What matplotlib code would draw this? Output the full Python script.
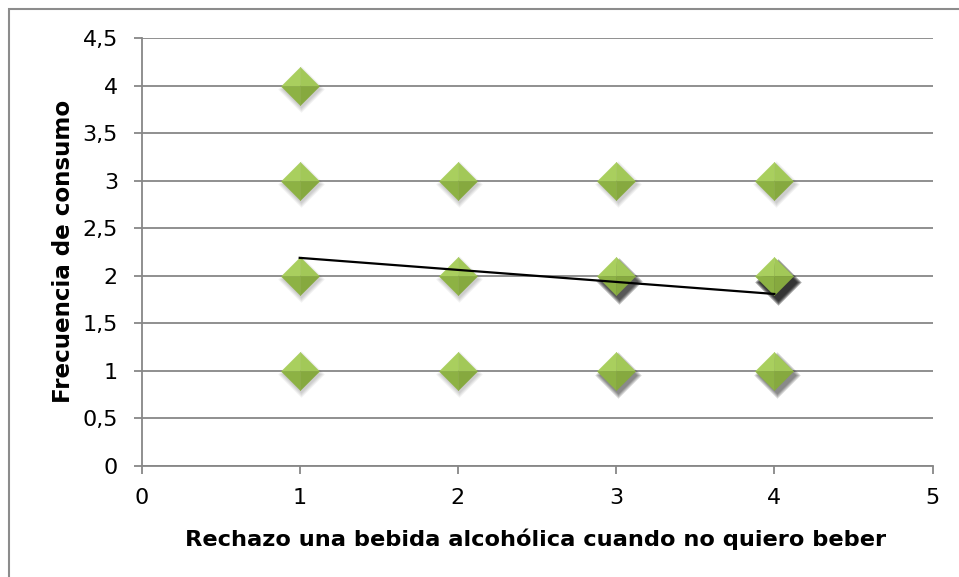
import matplotlib
matplotlib.use("Agg")
import matplotlib.pyplot as plt
from matplotlib.path import Path
from matplotlib.patches import Rectangle
import matplotlib.transforms as mtransforms

# ---- data ----
x_vals = [1, 1, 2, 3, 4, 1, 2, 3, 4, 1, 2, 3, 4]
y_vals = [4, 3, 3, 3, 3, 2, 2, 2, 2, 1, 1, 1, 1]
counts = [1, 1, 1, 1, 1, 1, 1, 3, 4, 1, 1, 2, 2]
trend_x = [1, 4]
trend_y = [2.19, 1.81]
x_ticks = [0, 1, 2, 3, 4, 5]
x_ticklabels = ["0", "1", "2", "3", "4", "5"]
y_ticks = [0, 0.5, 1, 1.5, 2, 2.5, 3, 3.5, 4, 4.5]
y_ticklabels = ["0", "0,5", "1", "1,5", "2", "2,5", "3", "3,5", "4", "4,5"]
x_label = "Rechazo una bebida alcohólica cuando no quiero beber"
y_label = "Frecuencia de consumo"

plt.rcParams['font.family'] = ['DejaVu Sans']

W, H = 959, 577
fig = plt.figure(figsize=(W / 100, H / 100), dpi=100)
ax = fig.add_axes([141.5 / W, 1 - 466 / H, (932.5 - 141.5) / W, (466 - 38.3) / H])

# outer chart border
fig.patches.append(Rectangle((9 / W, -0.1), 1.2, 1 - 9 / H + 0.1, transform=fig.transFigure,
                             fill=False, edgecolor='#8c8c8c', linewidth=1.5, zorder=0))

grid_c = '#878787'
ax.set_xlim(0, 5)
ax.set_ylim(0, 4.5)
ax.set_xticks(x_ticks)
ax.set_xticklabels(x_ticklabels)
ax.set_yticks(y_ticks)
ax.set_yticklabels(y_ticklabels)
ax.yaxis.grid(True, color=grid_c, linewidth=1.3)
ax.set_axisbelow(True)
for s in ['top', 'right']:
    ax.spines[s].set_visible(False)
for s in ['left', 'bottom']:
    ax.spines[s].set_color(grid_c)
    ax.spines[s].set_linewidth(1.3)
ax.tick_params(axis='both', direction='out', length=6, width=1.3, color=grid_c,
               labelsize=16, labelcolor='black')
ax.tick_params(axis='y', pad=11)
ax.tick_params(axis='x', pad=10)

ax.set_xlabel(x_label, fontsize=16.2, fontweight='bold')
ax.xaxis.label.set_va('baseline')
ax.xaxis.set_label_coords(536 / W, 1 - 546 / H, transform=fig.transFigure)
ax.set_ylabel(y_label, fontsize=16.6, fontweight='bold')
ax.yaxis.label.set_va('baseline')
ax.yaxis.set_label_coords(70 / W, 1 - 251 / H, transform=fig.transFigure)

# ---- markers: diamond facets with shadow ----
diamond = Path([(0, 1), (1, 0), (0, -1), (-1, 0), (0, 1)],
               [Path.MOVETO, Path.LINETO, Path.LINETO, Path.LINETO, Path.CLOSEPOLY])
facets = {
    'ul': (Path([(0, 0), (-1, 0), (0, 1), (0, 0)]), '#a9cf5e'),
    'ur': (Path([(0, 0), (0, 1), (1, 0), (0, 0)]), '#a2c858'),
    'll': (Path([(0, 0), (0, -1), (-1, 0), (0, 0)]), '#8db244'),
    'lr': (Path([(0, 0), (1, 0), (0, -1), (0, 0)]), '#86a93f'),
}
ms = 27.5

for xi, yi, c in zip(x_vals, y_vals, counts):
    # shadow (darker with more overlapping points)
    off = 1.5 + 0.8 * (c - 1)
    base_alpha = 0.05 + 0.09 * (c - 1)
    tr = mtransforms.offset_copy(ax.transData, fig=fig, x=off, y=-off - 2, units='dots')
    for grow in [6, 4, 2, 0]:
        ax.plot([xi], [yi], linestyle='none', marker=diamond, markersize=ms + grow,
                markerfacecolor='black', markeredgecolor='none',
                alpha=min(base_alpha, 0.6), transform=tr, zorder=3)
    for name, (p, col) in facets.items():
        ax.plot([xi], [yi], linestyle='none', marker=p, markersize=ms,
                markerfacecolor=col, markeredgecolor=col, markeredgewidth=0.3, zorder=4)

# trend line
ax.plot(trend_x, trend_y, color='black', linewidth=1.6, zorder=5)

fig.savefig('out.png', dpi=100)
